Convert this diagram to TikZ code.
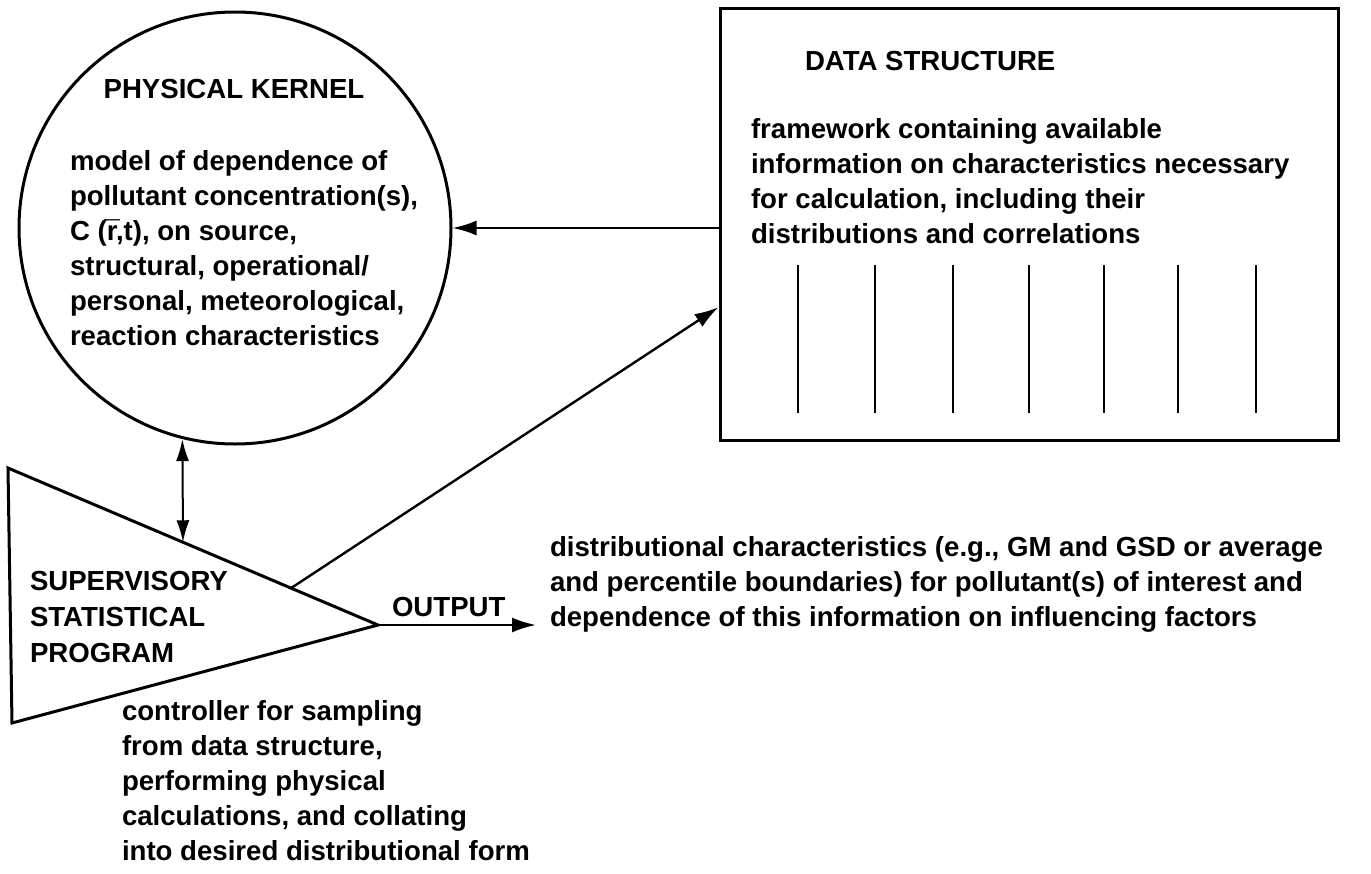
\documentclass[tikz,border=0pt]{standalone}
\usepackage{fontspec}
\setmainfont{Liberation Sans}
\usetikzlibrary{arrows.meta,calc}
\begin{document}
\begin{tikzpicture}[x=1pt,y=-1pt,
  outline/.style={draw=black,line width=3pt},
  link/.style={draw=black,line width=2.4pt,-{Latex[length=24pt,width=15pt]}},
  twoway/.style={draw=black,line width=2pt,{Latex[length=22pt,width=13pt]}-{Latex[length=22pt,width=13pt]}},
  rule/.style={draw=black,line width=1.8pt},
  label/.style={inner sep=0pt,outer sep=0pt,align=left,anchor=base west,
    font=\fontsize{27.6}{35}\selectfont\bfseries},
  ]
\useasboundingbox (0,0) rectangle (1371,873);

% physical kernel (multi-line labels are placed by the baseline of their last line)
\node[outline,circle,minimum size=432pt,inner sep=0pt] (kernel) at (235,228) {};
\node[label,anchor=base] (kernelhead) at (234,98) {PHYSICAL KERNEL};
\node[label] (kerneltext) at (70,345) {model of dependence of\\
pollutant concentration(s),\\
C ({\accent"00AF r},t), on source,\\
structural, operational/\\
personal, meteorological,\\
reaction characteristics};

% data structure
\node[outline,rectangle,minimum width=618pt,minimum height=432pt,inner sep=0pt] (data) at (1029,224) {};
\node[label] (datahead) at (805,70) {DATA STRUCTURE};
\node[label] (datatext) at (751,243) {framework containing available\\
information on characteristics necessary\\
for calculation, including their\\
distributions and correlations};
\foreach \x in {798,875,953,1029,1104,1178,1256}
  \draw[rule] (\x,265) -- (\x,413);

% supervisory program
\coordinate (tA) at (8,468);
\coordinate (tB) at (378,625);
\coordinate (tC) at (12,723);
\draw[outline,line join=miter] (tA) -- (tB) -- (tC) -- cycle;
\node[label] (progtext) at (30,662) {SUPERVISORY\\[1pt]STATISTICAL\\[1pt]PROGRAM};
\node[label] (prognote) at (122,860) {controller for sampling\\
from data structure,\\
performing physical\\
calculations, and collating\\
into desired distributional form};

% output
\node[label] (outlabel) at (392,616) {OUTPUT};
\node[label] (result) at (550,626) {distributional characteristics (e.g., GM and GSD or average\\
and percentile boundaries) for pollutant(s) of interest and\\
dependence of this information on influencing factors};

% connectors
\coordinate (sp1) at ($(tA)!0.473!(tB)$);
\coordinate (sp2) at ($(tA)!0.765!(tB)$);
\draw[twoway] (kernel.256) -- (sp1);
\draw[link] (data.west |- kernel.east) -- (kernel.east);
\draw[link] (sp2) -- (data.195.9);
\draw[link,shorten >=14pt] (tB) -- (tB -| result.west);
\end{tikzpicture}
\end{document}
